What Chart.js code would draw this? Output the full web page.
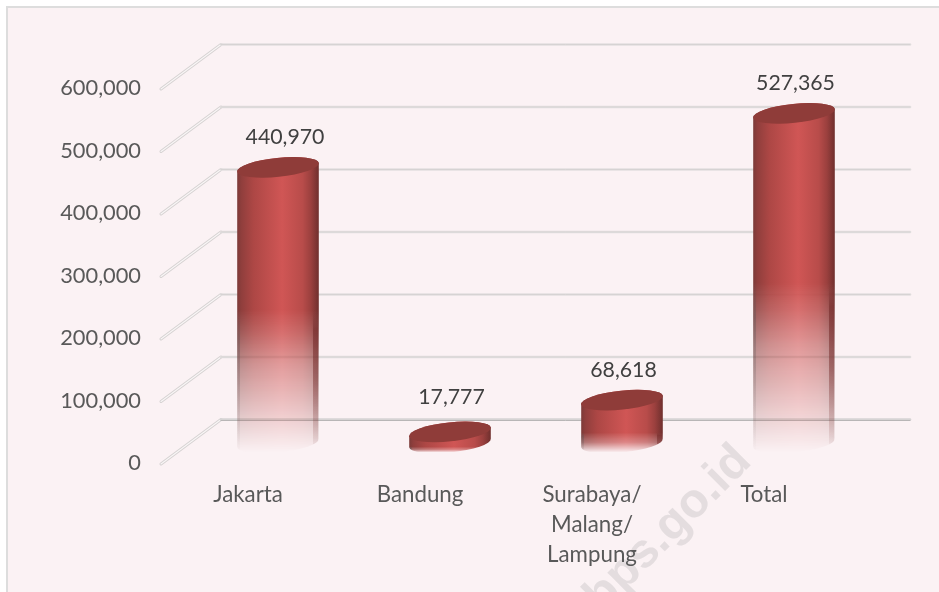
<!DOCTYPE html>
<html>
<head>
<meta charset="utf-8">
<title>Chart</title>
<script src="https://cdn.jsdelivr.net/npm/chart.js@4"></script>
<style>
html,body{margin:0;padding:0;background:#fff;}
#wrap{position:relative;width:939px;height:592px;overflow:hidden;}
#panel{position:absolute;left:6px;top:6px;right:-4px;bottom:-4px;background:#fbf2f4;border:2px solid #dddddd;}
canvas{position:absolute;left:0;top:0;}
</style>
</head>
<body>
<div id="wrap"><div id="panel"></div><canvas id="c" width="939" height="592"></canvas></div>
<script>
const categories = ["Jakarta", "Bandung", ["Surabaya/", "Malang/", "Lampung"], "Total"];
const seriesValues = [440970, 17777, 68618, 527365];
const tickValues = [0, 100000, 200000, 300000, 400000, 500000, 600000];
const valueLabels = ["440,970", "17,777", "68,618", "527,365"];
const watermark = "bps.go.id";

const FONT = "Lato, Carlito, sans-serif";
const wallDepth = { dx: 60, dy: -44.5 };   // front-to-back offset of the 3D walls
const barDepth = { dx: 30, dy: -20 };      // cylinders stand mid-depth

const panelPlugin = {
  id: "watermark",
  beforeDraw(chart) {
    const ctx = chart.ctx;
    ctx.save();
    ctx.translate(753, 463);
    ctx.rotate(-Math.PI / 4);
    ctx.font = "bold 48px 'Liberation Sans', sans-serif";
    ctx.fillStyle = "#e4dddf";
    ctx.textAlign = "right";
    ctx.textBaseline = "alphabetic";
    ctx.fillText(watermark, 0, 0);
    ctx.restore();
  }
};

const wallPlugin = {
  id: "walls",
  beforeDatasetsDraw(chart) {
    const ctx = chart.ctx, y = chart.scales.y, a = chart.chartArea;
    ctx.save();
    ctx.lineCap = "round";
    tickValues.forEach(v => {
      const py = y.getPixelForValue(v) + 1;
      const fx = a.left - 1, bx = fx + wallDepth.dx, by = py + wallDepth.dy, ex = a.right + wallDepth.dx;
      // oblique side wall
      ctx.beginPath(); ctx.moveTo(fx, py); ctx.lineTo(bx, by);
      ctx.strokeStyle = "#d6d2d2"; ctx.lineWidth = 3; ctx.stroke();
      ctx.strokeStyle = "#f9f6f6"; ctx.lineWidth = 1.1; ctx.stroke();
      // back wall
      ctx.beginPath(); ctx.moveTo(bx, by); ctx.lineTo(ex, by);
      ctx.strokeStyle = v === 0 ? "#d6d4d4" : "#e3e0e0"; ctx.lineWidth = 2.6; ctx.stroke();
      ctx.beginPath(); ctx.moveTo(bx, by + (v === 0 ? 1 : 0)); ctx.lineTo(ex, by + (v === 0 ? 1 : 0));
      ctx.strokeStyle = v === 0 ? "#b8b6b6" : "#d6d3d3"; ctx.lineWidth = 1; ctx.stroke();
    });
    ctx.restore();
  }
};

function cylinderPath(ctx, cx, top, base, rx, ry, rot) {
  ctx.beginPath();
  ctx.ellipse(cx, base, rx, ry, rot, 0, Math.PI);
  ctx.ellipse(cx, top, rx, ry, rot, Math.PI, 0);
  ctx.closePath();
}

const cylinderPlugin = {
  id: "cylinders",
  afterDatasetsDraw(chart) {
    const ctx = chart.ctx, meta = chart.getDatasetMeta(0);
    const rot = -0.105, ry = 9.5;
    meta.data.forEach((el, i) => {
      const cx = el.x + barDepth.dx, top = el.y + barDepth.dy, base = el.base + barDepth.dy;
      const rx = el.width / 2, left = cx - rx, right = cx + rx;
      const off = document.createElement("canvas");
      off.width = chart.width; off.height = chart.height;
      const o = off.getContext("2d");
      const h = o.createLinearGradient(left, 0, right, 0);
      h.addColorStop(0, "#7a3a38");
      h.addColorStop(0.05, "#8f3e3c");
      h.addColorStop(0.2, "#ad4745");
      h.addColorStop(0.55, "#d05655");
      h.addColorStop(0.8, "#b84c4a");
      h.addColorStop(0.9, "#9b403e");
      h.addColorStop(1, "#6e2f2d");
      o.fillStyle = h;
      cylinderPath(o, cx, top, base, rx, ry, rot);
      o.fill();
      // fade to nothing over the lower part of the cylinder
      const fadeBottom = base + ry;
      const H = fadeBottom - top;
      const tall = H > 100;
      const fadeLen = tall ? H * 0.5 : H > 40 ? H * 0.38 : H * 0.28;
      const fadeTop = fadeBottom - fadeLen;
      const v = o.createLinearGradient(0, fadeTop, 0, fadeBottom);
      v.addColorStop(0, "rgba(0,0,0,1)");
      if (tall) {
        v.addColorStop(0.16, "rgba(0,0,0,0.84)");
        v.addColorStop(0.38, "rgba(0,0,0,0.56)");
        v.addColorStop(0.76, "rgba(0,0,0,0.22)");
      } else {
        v.addColorStop(0.5, "rgba(0,0,0,0.68)");
      }
      v.addColorStop(1, "rgba(0,0,0,0)");
      o.globalCompositeOperation = "destination-in";
      o.fillStyle = v;
      o.fillRect(0, 0, off.width, off.height);
      o.globalCompositeOperation = "source-over";
      // darker edge strips that outlast the fade
      o.save();
      cylinderPath(o, cx, top, base, rx, ry, rot);
      o.clip();
      const s = o.createLinearGradient(0, fadeTop, 0, fadeBottom);
      s.addColorStop(0, "rgba(122,47,46,0)");
      s.addColorStop(0.14, "rgba(122,47,46,0.7)");
      s.addColorStop(0.5, "rgba(122,47,46,0.5)");
      s.addColorStop(0.9, "rgba(122,47,46,0.12)");
      s.addColorStop(1, "rgba(122,47,46,0)");
      o.fillStyle = s;
      o.fillRect(right - 6, fadeTop, 5, fadeLen);
      const l = o.createLinearGradient(0, fadeTop, 0, fadeBottom);
      l.addColorStop(0, "rgba(90,80,80,0)");
      l.addColorStop(0.2, "rgba(90,80,80,0.35)");
      l.addColorStop(1, "rgba(90,80,80,0)");
      o.fillStyle = l;
      o.fillRect(left, fadeTop, 3, fadeLen);
      o.restore();
      ctx.drawImage(off, 0, 0);
      // top cap
      ctx.save();
      ctx.beginPath();
      ctx.ellipse(cx, top, rx, ry, rot, 0, Math.PI * 2);
      ctx.fillStyle = "#8f3c39";
      ctx.fill();
      ctx.restore();
      // value label
      const nudgeX = i === 0 ? 7 : 1.5;
      const nudgeY = i === 1 ? -34.5 : -30;
      ctx.save();
      ctx.font = "21.3px " + FONT;
      ctx.fillStyle = "#404040";
      ctx.textAlign = "center";
      ctx.textBaseline = "middle";
      ctx.fillText(valueLabels[i], cx + nudgeX, top + nudgeY);
      ctx.restore();
    });
  }
};

new Chart(document.getElementById("c"), {
  type: "bar",
  data: {
    labels: categories,
    datasets: [{
      data: seriesValues,
      backgroundColor: "rgba(0,0,0,0)",
      borderWidth: 0,
      barPercentage: 0.477,
      categoryPercentage: 1
    }]
  },
  plugins: [panelPlugin, wallPlugin, cylinderPlugin],
  options: {
    responsive: false,
    animation: false,
    layout: { padding: { left: 0, right: 89, top: 88, bottom: 0 } },
    plugins: { legend: { display: false }, tooltip: { enabled: false }, title: { display: false } },
    scales: {
      x: {
        grid: { display: false, drawTicks: false },
        border: { display: false },
        ticks: {
          padding: 17,
          maxRotation: 0,
          minRotation: 0,
          autoSkip: false,
          color: "#595959",
          font: { family: FONT, size: 22.3, lineHeight: "30px" }
        },
        afterFit(s) { s.height = 129; }
      },
      y: {
        min: 0,
        max: 600000,
        grid: { display: false, drawTicks: false },
        border: { display: false },
        afterBuildTicks(s) { s.ticks = tickValues.map(v => ({ value: v })); },
        ticks: {
          padding: 21,
          color: "#595959",
          font: { family: FONT, size: 21.8 },
          callback: v => v.toLocaleString("en-US")
        },
        afterFit(s) { s.width = 162; }
      }
    }
  }
});
</script>
</body>
</html>
